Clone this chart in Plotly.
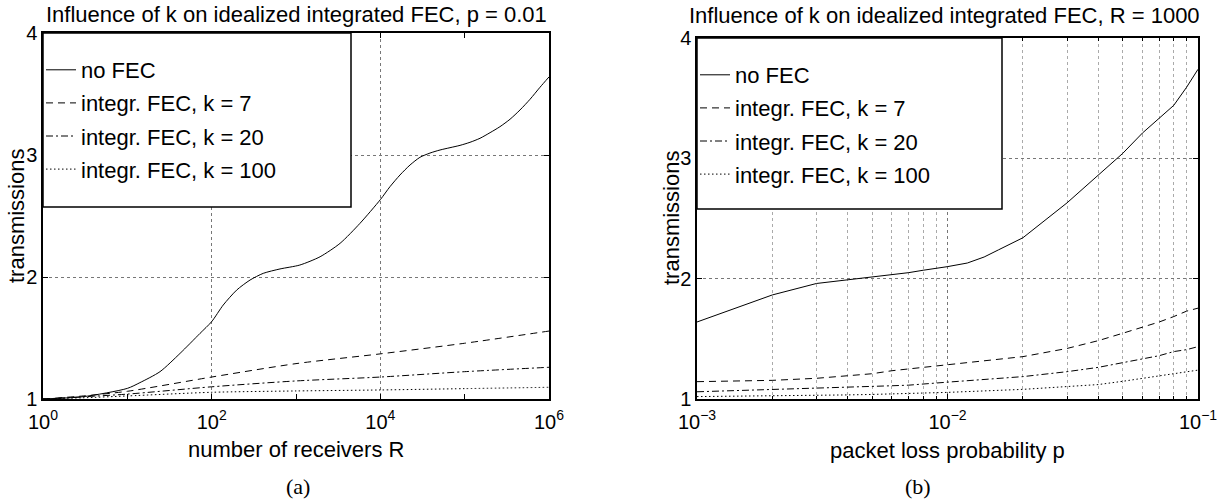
import plotly.graph_objects as go

# ---------------- data: panel (a), p = 0.01 ----------------
R_nofec = [1, 3, 10, 14.1, 24.4, 42.2, 72.8, 100, 137, 198, 285, 409, 646,
           1110, 1930, 3330, 5740, 10000, 13000, 17100, 22500, 29500, 38800,
           51000, 67000, 88100, 115600, 152000, 200000, 262000, 345000,
           453000, 596000, 782000, 1000000]
T_nofec_a = [1.0, 1.019, 1.087, 1.134, 1.224, 1.374, 1.538, 1.634, 1.77, 1.893,
             1.975, 2.03, 2.066, 2.098, 2.166, 2.276, 2.44, 2.634, 2.74, 2.836,
             2.918, 2.981, 3.016, 3.041, 3.06, 3.079, 3.104, 3.137, 3.183,
             3.232, 3.293, 3.369, 3.457, 3.555, 3.64]
R_fec = [1, 3, 10, 100, 1000, 10000, 100000, 1000000]
T_k7_a = [1.0, 1.025, 1.063, 1.18, 1.29, 1.37, 1.457, 1.557]
T_k20_a = [1.0, 1.018, 1.04, 1.10, 1.148, 1.18, 1.224, 1.26]
T_k100_a = [1.0, 1.01, 1.025, 1.055, 1.066, 1.074, 1.085, 1.096]

# ---------------- data: panel (b), R = 1000 ----------------
p_nofec = [1e-3, 2e-3, 3e-3, 4e-3, 5e-3, 6e-3, 7e-3, 8e-3, 9e-3, 1e-2,
           1.2e-2, 1.4e-2, 1.6e-2, 1.8e-2, 2e-2, 3e-2, 4e-2, 5e-2, 6e-2,
           7e-2, 8e-2, 9e-2, 1e-1]
T_nofec_b = [1.64, 1.865, 1.96, 1.99, 2.017, 2.03, 2.05, 2.07, 2.085, 2.10,
             2.13, 2.18, 2.24, 2.29, 2.34, 2.63, 2.86, 3.04, 3.21,
             3.33, 3.44, 3.59, 3.74]
p_vals = [1e-3, 2e-3, 3e-3, 4e-3, 5e-3, 6e-3, 7e-3, 8e-3, 9e-3,
          1e-2, 2e-2, 3e-2, 4e-2, 5e-2, 6e-2, 7e-2, 8e-2, 9e-2, 1e-1]
T_k7_b = [1.144, 1.155, 1.172, 1.19, 1.21, 1.235, 1.25, 1.26, 1.27,
          1.285, 1.352, 1.42, 1.485, 1.546, 1.596, 1.64, 1.685, 1.73, 1.755]
T_k20_b = [1.06, 1.077, 1.089, 1.097, 1.105, 1.11, 1.115, 1.125, 1.132,
           1.14, 1.186, 1.227, 1.263, 1.30, 1.333, 1.36, 1.394, 1.41, 1.435]
T_k100_b = [1.02, 1.024, 1.03, 1.034, 1.038, 1.042, 1.045, 1.048, 1.05,
            1.055, 1.08, 1.10, 1.12, 1.147, 1.17, 1.19, 1.21, 1.225, 1.24]

names = ["no FEC", "integr. FEC, k = 7", "integr. FEC, k = 20", "integr. FEC, k = 100"]
dashes = ["solid", "7px,5px", "7px,3px,2px,3px", "1.5px,2.5px"]

y_ticks = [1, 2, 3, 4]
xa_tickvals = [1, 100, 10000, 1000000]
xa_ticktext = ["10<sup>0</sup>", "10<sup>2</sup>", "10<sup>4</sup>", "10<sup>6</sup>"]
xa_odd = [10, 1000, 100000]
xb_tickvals = [1e-3, 1e-2, 1e-1]
xb_ticktext = ["10<sup>\u22123</sup>", "10<sup>\u22122</sup>", "10<sup>\u22121</sup>"]
xb_minor = [2e-3, 3e-3, 4e-3, 5e-3, 6e-3, 7e-3, 8e-3, 9e-3,
            2e-2, 3e-2, 4e-2, 5e-2, 6e-2, 7e-2, 8e-2, 9e-2]

W, H = 1232, 503
def px(x):
    return x / W
def py(y):
    return (H - y) / H

TXT = 22
TICK = 20

fig = go.Figure()

series_a = [(R_nofec, T_nofec_a), (R_fec, T_k7_a), (R_fec, T_k20_a), (R_fec, T_k100_a)]
series_b = [(p_nofec, T_nofec_b), (p_vals, T_k7_b), (p_vals, T_k20_b), (p_vals, T_k100_b)]

for i, (xs, ys) in enumerate(series_a):
    fig.add_trace(go.Scatter(x=xs, y=ys, mode="lines", name=names[i],
                             line=dict(color="black", width=1, dash=dashes[i],
                                       shape="spline", smoothing=0.7),
                             xaxis="x", yaxis="y", legend="legend", legendgroup="a%d" % i))
for i, (xs, ys) in enumerate(series_b):
    fig.add_trace(go.Scatter(x=xs, y=ys, mode="lines", name=names[i],
                             line=dict(color="black", width=1, dash=dashes[i]),
                             xaxis="x2", yaxis="y2", legend="legend2", legendgroup="b%d" % i))
# empty helper trace so the odd-decade tick axis of panel (a) is drawn
fig.add_trace(go.Scatter(x=[], y=[], xaxis="x3", yaxis="y", showlegend=False,
                         hoverinfo="skip"))

axis_common = dict(showline=True, linecolor="black", linewidth=1.5, mirror="ticks",
                   ticks="inside", ticklen=5, tickcolor="black", zeroline=False,
                   showgrid=True, gridcolor="#777777", griddash="dot", gridwidth=1,
                   tickfont=dict(size=TICK), automargin=False)

ax_l, ax_r = 43, 549
bx_l, bx_r = 697, 1198
top_a, top_b, bot = 33, 38, 399

fig.update_layout(
    template="none",
    width=W, height=H, margin=dict(l=0, r=0, t=0, b=0, autoexpand=False),
    plot_bgcolor="white", paper_bgcolor="white",
    font=dict(family="Liberation Sans, Arial, sans-serif", size=TXT, color="black"),
    xaxis=dict(type="log", range=[0, 6], domain=[px(ax_l), px(ax_r)], anchor="y",
               tickmode="array", tickvals=xa_tickvals, ticktext=xa_ticktext,
               ticklabelstandoff=4, **axis_common),
    xaxis3=dict(type="log", range=[0, 6], domain=[px(ax_l), px(ax_r)], anchor="y",
                overlaying="x", tickmode="array", tickvals=xa_odd,
                showticklabels=False, showline=False, showgrid=False,
                ticks="inside", ticklen=5, tickcolor="black", mirror="ticks",
                zeroline=False, automargin=False),
    yaxis=dict(range=[1, 4], domain=[py(bot), py(top_a)], anchor="x",
               tickmode="array", tickvals=y_ticks, **axis_common),
    xaxis2=dict(type="log", range=[-3, -1], domain=[px(bx_l), px(bx_r)], anchor="y2",
                tickmode="array", tickvals=xb_tickvals, ticktext=xb_ticktext,
                ticklabelstandoff=4,
                minor=dict(tickmode="array", tickvals=xb_minor, ticks="inside", ticklen=3,
                           tickcolor="black", showgrid=True, gridcolor="#aaaaaa",
                           griddash="dot", gridwidth=1),
                **axis_common),
    yaxis2=dict(range=[1, 4], domain=[py(bot), py(top_b)], anchor="x2",
                tickmode="array", tickvals=y_ticks, **axis_common),
    legend=dict(x=px(ax_l - 2), y=py(top_a + 16), xanchor="left", yanchor="top",
                bgcolor="rgba(0,0,0,0)", borderwidth=0, font=dict(size=TXT),
                tracegroupgap=1.5, itemwidth=30),
    legend2=dict(x=px(bx_l - 2), y=py(top_b + 16), xanchor="left", yanchor="top",
                 bgcolor="rgba(0,0,0,0)", borderwidth=0, font=dict(size=TXT),
                 tracegroupgap=1.5, itemwidth=30),
    shapes=[
        dict(type="rect", xref="paper", yref="paper", x0=px(ax_l), x1=px(351),
             y0=py(207), y1=py(top_a), fillcolor="white",
             line=dict(color="black", width=1.5), layer="above"),
        dict(type="rect", xref="paper", yref="paper", x0=px(bx_l), x1=px(1002),
             y0=py(209), y1=py(top_b), fillcolor="white",
             line=dict(color="black", width=1.5), layer="above"),
    ],
    annotations=[
        dict(text="Influence of k on idealized integrated FEC, p = 0.01", x=px(296), y=py(14),
             xref="paper", yref="paper", showarrow=False, xanchor="center", yanchor="middle",
             font=dict(size=TXT)),
        dict(text="Influence of k on idealized integrated FEC, R = 1000", x=px(944), y=py(16),
             xref="paper", yref="paper", showarrow=False, xanchor="center", yanchor="middle",
             font=dict(size=TXT)),
        dict(text="number of receivers R", x=px(296), y=py(449), xref="paper", yref="paper",
             showarrow=False, xanchor="center", yanchor="middle", font=dict(size=TXT)),
        dict(text="packet loss probability p", x=px(947), y=py(450), xref="paper", yref="paper",
             showarrow=False, xanchor="center", yanchor="middle", font=dict(size=TXT)),
        dict(text="transmissions", x=px(16), y=py(216), xref="paper", yref="paper",
             showarrow=False, xanchor="center", yanchor="middle", textangle=-90,
             font=dict(size=TXT)),
        dict(text="transmissions", x=px(671), y=py(218), xref="paper", yref="paper",
             showarrow=False, xanchor="center", yanchor="middle", textangle=-90,
             font=dict(size=TXT)),
        dict(text="(a)", x=px(298), y=py(486), xref="paper", yref="paper", showarrow=False,
             xanchor="center", yanchor="middle",
             font=dict(family="Liberation Serif, Times New Roman, serif", size=22)),
        dict(text="(b)", x=px(918), y=py(486), xref="paper", yref="paper", showarrow=False,
             xanchor="center", yanchor="middle",
             font=dict(family="Liberation Serif, Times New Roman, serif", size=22)),
    ],
)

fig.write_html("out.html", config={"displayModeBar": False},
               post_script="document.body.style.margin='0px';"
                           "document.body.style.overflow='hidden';")
